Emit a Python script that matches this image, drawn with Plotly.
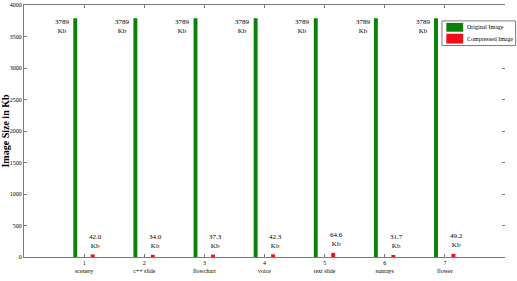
import plotly.graph_objects as go

categories = ["scenery", "c++ slide", "flowchart", "voice", "text slide", "sunrays", "flower"]
positions = [1, 2, 3, 4, 5, 6, 7]
original_kb = [3789, 3789, 3789, 3789, 3789, 3789, 3789]
compressed_kb = [42.0, 34.0, 37.3, 42.3, 64.6, 31.7, 49.2]
y_ticks = [0, 500, 1000, 1500, 2000, 2500, 3000, 3500, 4000]
series_names = ["Original Image", "Compressed Image"]

FONT = "Liberation Serif"
GREEN = "#0b800b"
RED = "#ee1018"
AXIS = "#7a7a7a"

fig = go.Figure()
fig.add_trace(go.Bar(x=positions, y=original_kb, name=series_names[0],
                     marker=dict(color=GREEN, line=dict(width=0)),
                     width=0.065, offset=-0.18, showlegend=False))
fig.add_trace(go.Bar(x=positions, y=compressed_kb, name=series_names[1],
                     marker=dict(color=RED, line=dict(width=0)),
                     width=0.065, offset=0.11, showlegend=False, yaxis="y2"))

for p, v in zip(positions, original_kb):
    fig.add_annotation(x=p - 0.36, y=v + 40, text=f"{v}<br>Kb", showarrow=False,
                       xanchor="center", yanchor="top",
                       font=dict(family=FONT, size=7, color="black"))
for p, v in zip(positions, compressed_kb):
    fig.add_annotation(x=p + 0.19, y=v + 45, text=f"{v:.1f}<br>Kb", showarrow=False,
                       xanchor="center", yanchor="bottom",
                       font=dict(family=FONT, size=7, color="black"))

# manual legend box (paper coordinates)
fig.add_shape(type="rect", xref="paper", yref="paper", x0=0.869, x1=1.022, y0=0.839, y1=0.937,
              line=dict(color=AXIS, width=1), fillcolor="white", layer="above")
for (y0, y1, ty), col, nm in zip([(0.894, 0.929, 0.911), (0.847, 0.886, 0.866)],
                                 [GREEN, RED], series_names):
    fig.add_shape(type="rect", xref="paper", yref="paper", x0=0.878, x1=0.913, y0=y0, y1=y1,
                  line=dict(width=0), fillcolor=col, layer="above")
    fig.add_annotation(xref="paper", yref="paper", x=0.916, y=ty, text=nm, showarrow=False,
                       xanchor="left", yanchor="middle",
                       font=dict(family=FONT, size=6, color="black"))

fig.update_layout(
    width=517, height=281,
    margin=dict(l=22, r=12, t=2, b=24),
    paper_bgcolor="white", plot_bgcolor="white",
    barmode="overlay",
    font=dict(family=FONT, size=7, color="black"),
    showlegend=False,
    yaxis2=dict(overlaying="y", side="right", range=[0, 4000], tickvals=y_ticks,
                showticklabels=False, ticks="inside", ticklen=3, tickcolor=AXIS,
                showline=False, showgrid=False, zeroline=False),
)
fig.update_xaxes(range=[0, 8], tickvals=positions,
                 ticktext=[f"{p}<br>{c}" for p, c in zip(positions, categories)],
                 showline=True, linecolor=AXIS, linewidth=1, mirror="ticks",
                 ticks="inside", ticklen=3, tickcolor=AXIS,
                 showgrid=False, zeroline=False,
                 tickfont=dict(family=FONT, size=6, color="black"))
fig.update_layout(yaxis=dict(range=[0, 4000], tickvals=y_ticks,
                 showline=True, linecolor=AXIS, linewidth=1, mirror=False,
                 ticks="inside", ticklen=3, tickcolor=AXIS,
                 showgrid=False, zeroline=False,
                 tickfont=dict(family=FONT, size=6, color="black"),
                 title=dict(text="<b>Image Size in Kb</b>", standoff=1,
                            font=dict(family=FONT, size=10, color="black"))))
fig.write_html("out.html")
